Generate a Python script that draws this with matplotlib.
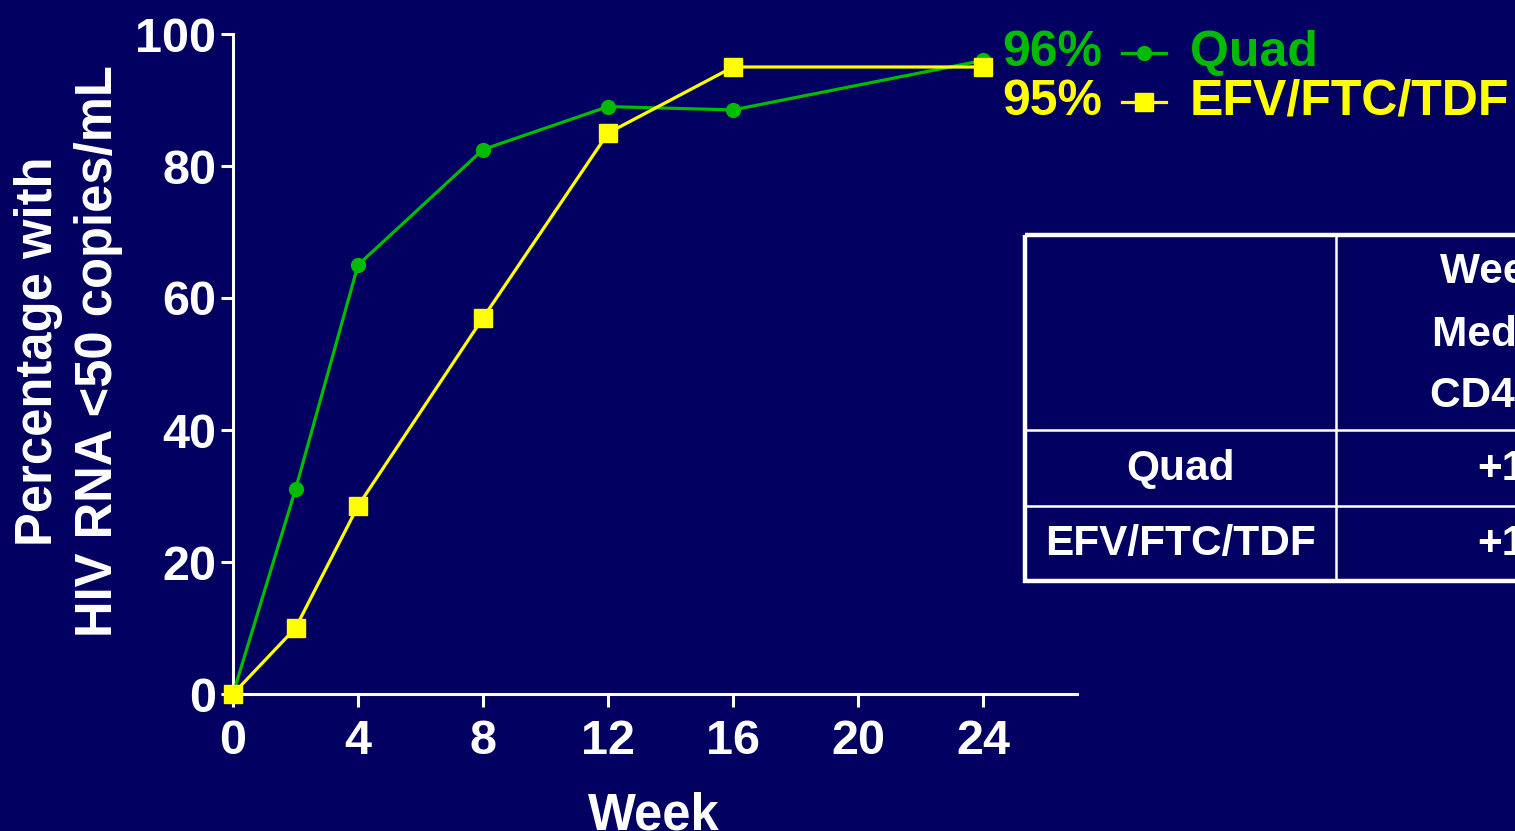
import matplotlib.pyplot as plt

# HIV RNA <50 copies/mL over time, two regimens
weeks = [0, 2, 4, 8, 12, 16, 24]
quad = [0, 31, 65, 82.5, 89, 88.5, 96]
efv_ftc_tdf = [0, 10, 28.5, 57, 85, 95, 95]

x_ticks = [0, 4, 8, 12, 16, 20, 24]
y_ticks = [0, 20, 40, 60, 80, 100]

legend_pct = ["96%", "95%"]
legend_names = ["Quad", "EFV/FTC/TDF"]

table_header = ["Week 24", "Median \u0394", "CD4 cells"]
table_rows = ["Quad", "EFV/FTC/TDF"]
table_values = ["+177", "+195"]

bg = "#020060"
green = "#00BB00"
yellow = "#FFFF00"

plt.rcParams["font.family"] = ["Liberation Sans", "DejaVu Sans"]
plt.rcParams["font.weight"] = "bold"

fig = plt.figure(figsize=(15.15, 8.31), dpi=100, facecolor=bg)

ax = fig.add_axes([233 / 1515, 1 - 694 / 831, 844 / 1515, 660 / 831])
ax.set_facecolor(bg)

ax.plot(weeks, quad, color=green, lw=2.3, marker="o", ms=10, clip_on=False, zorder=3)
ax.plot(weeks, efv_ftc_tdf, color=yellow, lw=2.3, marker="s", ms=12.5, clip_on=False, zorder=4)

ax.set_xlim(0, 27)
ax.set_ylim(0, 100)
ax.set_xticks(x_ticks)
ax.set_yticks(y_ticks)
for s in ["top", "right"]:
    ax.spines[s].set_visible(False)
for s in ["left", "bottom"]:
    ax.spines[s].set_color("white")
    ax.spines[s].set_linewidth(2.2)
ax.tick_params(colors="white", width=2.2, length=9, labelsize=35)
ax.tick_params(axis="x", pad=9)
ax.tick_params(axis="y", pad=3)
for lbl in ax.get_xticklabels() + ax.get_yticklabels():
    lbl.set_fontweight("bold")

# overlay in pixel units for axis titles, legend and table
ov = fig.add_axes([0, 0, 1, 1], facecolor="none")
ov.set_xlim(0, 1515)
ov.set_ylim(831, 0)
ov.axis("off")

ov.text(654, 829, "Week", color="white", fontsize=36.5, fontweight="bold",
        ha="center", va="baseline")
ov.text(52, 351, "Percentage with", color="white", fontsize=36.5, fontweight="bold",
        rotation=90, rotation_mode="anchor", ha="center", va="baseline")
ov.text(112, 351, "HIV RNA <50 copies/mL", color="white", fontsize=36.5, fontweight="bold",
        rotation=90, rotation_mode="anchor", ha="center", va="baseline")

for i, (pct, name, col, mk, ms) in enumerate(zip(legend_pct, legend_names,
                                                 [green, yellow], ["o", "s"], [10, 12.5])):
    y = 53 + i * 49
    ov.text(1102, y, pct, color=col, fontsize=36, fontweight="bold", ha="right", va="center")
    ov.plot([1122, 1166], [y, y], color=col, lw=2.3)
    ov.plot([1144], [y], color=col, marker=mk, ms=ms)
    ov.text(1190, y, name, color=col, fontsize=36, fontweight="bold", ha="left", va="center")

# table (runs off the right edge)
tl, tr, tt, tb = 1025, 1715, 235, 581
ov.add_patch(plt.Rectangle((tl, tt), tr - tl, tb - tt, fill=False, ec="white", lw=3.2, clip_on=False))
ov.plot([1336, 1336], [tt, tb], color="white", lw=1.8)
for yy in [430, 506]:
    ov.plot([tl, tr], [yy, yy], color="white", lw=1.8)

for yy, txt in zip([272, 335, 396], table_header):
    ov.text(1525, yy, txt, color="white", fontsize=30.5, fontweight="bold", ha="center", va="center")
for yy, name, val in zip([469, 544], table_rows, table_values):
    ov.text(1180, yy, name, color="white", fontsize=30.5, fontweight="bold", ha="center", va="center")
    ov.text(1525, yy, val, color="white", fontsize=30.5, fontweight="bold", ha="center", va="center")

fig.savefig("out.png", dpi=100, facecolor=bg)
